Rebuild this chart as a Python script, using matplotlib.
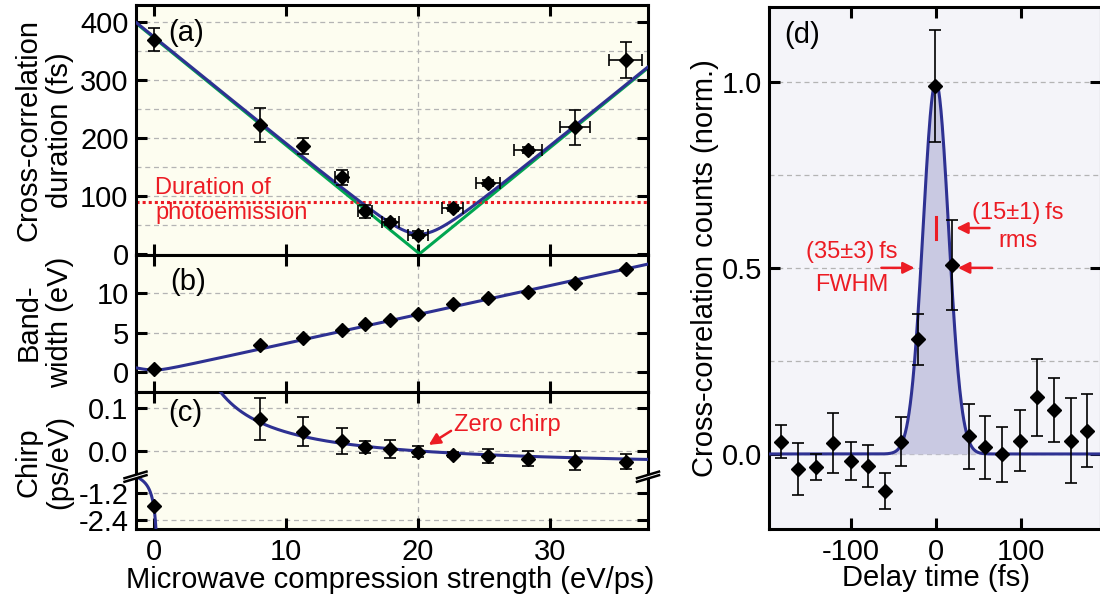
import numpy as np
import matplotlib.pyplot as plt
from matplotlib.lines import Line2D
from matplotlib.patches import Polygon

plt.rcParams['font.family'] = ['Liberation Sans', 'DejaVu Sans']
plt.rcParams['axes.unicode_minus'] = False

# ---- data ----
# panels (a)-(c): microwave compression strength (eV/ps)
strength = [0, 8.0, 11.3, 14.2, 16.0, 17.9, 20.0, 22.6, 25.3, 28.3, 31.9, 35.7]
strength_err = [0, 0, 0, 0.5, 0.52, 0.67, 0.74, 0.81, 0.93, 1.05, 1.14, 1.26]
duration = [369, 222, 186, 132, 73, 55, 33, 79, 122, 179, 218, 333]
duration_err = [20, 30, 14, 13, 11, 5, 6, 5, 5, 5, 30, 31]
bandwidth = [0.38, 3.46, 4.32, 5.3, 6.07, 6.58, 7.39, 8.67, 9.36, 10.09, 11.24, 13.08]
chirp = [-1.78, 0.074, 0.045, 0.023, 0.010, 0.004, -0.002, -0.009, -0.012, -0.018, -0.023, -0.025]
chirp_err = [0, 0.048, 0.034, 0.031, 0.014, 0.021, 0.013, 0.006, 0.017, 0.018, 0.022, 0.018]
photoemission_fs = 90

# fit parameters for the model curves
tau0, tau_min, s_zero = 372.0, 34.0, 20.1     # duration fit (fs, fs, eV/ps)
bw0, bw_slope = 0.3, 0.365                   # bandwidth fit
chirp_k, chirp_pole, chirp_zero = 0.82, 0.45, 20.0

# panel (d): delay scan
delay = [-182, -162, -141, -121, -100, -80, -60, -41, -21, -1,
         19, 39, 58, 78, 99, 119, 139, 159, 178]
counts = [0.033, -0.041, -0.034, 0.029, -0.019, -0.032, -0.099, 0.033, 0.308, 0.989,
          0.508, 0.047, 0.018, -0.001, 0.036, 0.152, 0.118, 0.036, 0.063]
counts_err = [0.045, 0.07, 0.035, 0.08, 0.05, 0.056, 0.049, 0.065, 0.068, 0.15,
              0.12, 0.087, 0.085, 0.073, 0.082, 0.104, 0.085, 0.115, 0.097]
gauss_amp, gauss_t0, gauss_sigma = 1.0, 0.0, 15.0

BLUE = '#2e3192'
GREEN = '#00a651'
RED = '#ec1c24'
CREAM = '#fdfdf0'
LAVENDER = '#f4f4f9'
FILL = '#c9c9e2'
GRID = '#b4b4b4'
FS = 21

W, H = 1100, 599
fig = plt.figure(figsize=(11, 5.99), dpi=100)

L, R = 135.5, 648


def rect(top, bot, left=L, right=R):
    return [left / W, 1 - bot / H, (right - left) / W, (bot - top) / H]


ax_a = fig.add_axes(rect(5.3, 255))
ax_b = fig.add_axes(rect(255, 391.5))
ax_c1 = fig.add_axes(rect(391.5, 476.7))
ax_c2 = fig.add_axes(rect(476.7, 528.5))
ax_d = fig.add_axes(rect(6.7, 528.7, 769, 1101))


def style(ax, bg):
    ax.set_facecolor(bg)
    for s in ax.spines.values():
        s.set_linewidth(2.2)
    ax.tick_params(direction='in', length=8, width=2.2, top=True, right=True,
                   labelsize=FS, color='k')
    ax.tick_params(axis='y', pad=5)
    ax.tick_params(axis='x', pad=7)


def hgrid(ax, vals):
    for v in vals:
        ax.axhline(v, color=GRID, lw=0.9, ls=(0, (4, 3)), zorder=0.5)


for ax in (ax_a, ax_b, ax_c1, ax_c2):
    style(ax, CREAM)
    ax.set_xlim(-1.4, 37.4)
    ax.set_xticks([0, 10, 20, 30])
    ax.axvline(20, color=GRID, lw=0.9, ls=(0, (4, 3)), zorder=0.5)
    if ax is not ax_c2:
        ax.tick_params(labelbottom=False)

ax_c1.spines['bottom'].set_visible(False)
ax_c1.tick_params(bottom=False)
ax_c2.spines['top'].set_visible(False)
ax_c2.tick_params(top=False)
ax_c2.set_xticklabels(['0', '10', '20', '30'])

ebar = dict(fmt='D', color='k', ms=7.2, ecolor='k', elinewidth=1.2,
            capsize=4, capthick=1.2, zorder=5)

# ---- (a) ----
xs = np.linspace(-1.4, 37.4, 600)
green = tau0 * np.abs(1 - xs / s_zero)
blue = np.sqrt(tau_min ** 2 + green ** 2)
ax_a.set_ylim(-2, 428)
ax_a.set_yticks([0, 100, 200, 300, 400])
hgrid(ax_a, [50, 100, 150, 200, 250, 300, 350, 400])
ax_a.plot(xs, green, color=GREEN, lw=2.2, zorder=2)
ax_a.plot(xs, blue, color=BLUE, lw=2.2, zorder=3)
ax_a.axhline(photoemission_fs, color=RED, lw=2.2, ls=(0, (1, 1)), zorder=2.5)
ax_a.errorbar(strength, duration, yerr=duration_err, xerr=strength_err, **ebar)
ax_a.text(1.1, 381, '(a)', fontsize=FS, ha='left', va='center')
ax_a.text(0.1, 92, 'Duration of\nphotoemission', fontsize=17, color=RED,
          ha='left', va='center', linespacing=1.2)

# ---- (b) ----
ax_b.set_ylim(-2.4, 14.8)
ax_b.set_yticks([0, 5, 10])
hgrid(ax_b, [0, 5, 10])
ax_b.plot(xs, np.sqrt(bw0 ** 2 + (bw_slope * xs) ** 2), color=BLUE, lw=2.2, zorder=3)
ax_b.plot(strength, bandwidth, 'D', color='k', ms=7.2, zorder=5)
ax_b.text(1.2, 11.4, '(b)', fontsize=FS, ha='left', va='center')

# ---- (c) broken axis ----
ax_c1.set_ylim(-0.0598, 0.138)
ax_c1.set_yticks([0.0, 0.1])
ax_c1.set_yticklabels(['0.0', '0.1'])
hgrid(ax_c1, [0.0, 0.1])
ax_c2.set_ylim(-2.76, -0.495)
ax_c2.set_yticks([-2.4, -1.2])
ax_c2.set_yticklabels(['-2.4', '-1.2'])
hgrid(ax_c2, [-2.4, -1.2])


def chirp_fit(x):
    return chirp_k / (x - chirp_pole) - chirp_k / (chirp_zero - chirp_pole)


x_hi = np.linspace(chirp_pole + 0.05, 37.4, 600)
x_lo = np.linspace(-1.4, chirp_pole - 0.005, 400)
for ax in (ax_c1, ax_c2):
    ax.plot(x_hi, chirp_fit(x_hi), color=BLUE, lw=2.2, zorder=3)
    ax.plot(x_lo, chirp_fit(x_lo), color=BLUE, lw=2.2, zorder=3)
    ax.errorbar(strength, chirp, yerr=chirp_err, **ebar)
ax_c1.text(1.1, 0.088, '(c)', fontsize=FS, ha='left', va='center')
ax_c1.annotate('Zero chirp', xy=(20.8, 0.014), xytext=(22.7, 0.061),
               fontsize=17, color=RED, ha='left', va='center',
               arrowprops=dict(arrowstyle='-|>', color=RED, lw=1.8,
                               mutation_scale=17, shrinkA=0, shrinkB=0,
                               relpos=(0, 0.3)))

# break marks on both spines
yb = 476.7
for xb in (L, R):
    pts = [(xb - 10, yb + 4.5), (xb + 10, yb - 1.5), (xb + 10, yb - 4.5), (xb - 10, yb + 1.5)]
    fig.add_artist(Polygon([(p[0] / W, 1 - p[1] / H) for p in pts], closed=True,
                           facecolor='white', edgecolor='none',
                           transform=fig.transFigure, zorder=10))
    for off in (-1.8, 1.8):
        fig.add_artist(Line2D([(xb - 11) / W, (xb + 11) / W],
                              [1 - (yb + off + 3.3) / H, 1 - (yb + off - 3.3) / H],
                              color='k', lw=1.8, transform=fig.transFigure, zorder=11))

# ---- (d) ----
style(ax_d, LAVENDER)
ax_d.set_xlim(-196, 194)
ax_d.set_ylim(-0.2008, 1.2016)
ax_d.set_xticks([-100, 0, 100])
ax_d.set_xticklabels(['-100', '0', '100'])
ax_d.set_yticks([0.0, 0.5, 1.0])
ax_d.set_yticklabels(['0.0', '0.5', '1.0'])
hgrid(ax_d, [0.0, 0.25, 0.5, 0.75, 1.0])
ts = np.linspace(-196, 194, 800)
gauss = gauss_amp * np.exp(-0.5 * ((ts - gauss_t0) / gauss_sigma) ** 2)
ax_d.fill_between(ts, 0, gauss, color=FILL, lw=0, zorder=1)
ax_d.plot(ts, gauss, color=BLUE, lw=2.2, zorder=3)
ax_d.errorbar(delay, counts, yerr=counts_err, **ebar)
ax_d.text(-178, 1.126, '(d)', fontsize=FS, ha='left', va='center')

arrow = dict(arrowstyle='-|>', color=RED, lw=1.8, mutation_scale=17, shrinkA=0, shrinkB=0)
ax_d.annotate('', xy=(-25, 0.5), xytext=(-64, 0.5), arrowprops=arrow)
ax_d.annotate('', xy=(26, 0.5), xytext=(66, 0.5), arrowprops=arrow)
ax_d.annotate('', xy=(24, 0.607), xytext=(63, 0.607), arrowprops=arrow)
ax_d.plot([0, 0], [0.578, 0.637], color=RED, lw=2.2, zorder=4)
ax_d.text(-99, 0.543, '(35\u00b13)\u2009fs', fontsize=17, color=RED, ha='center', va='center')
ax_d.text(-99, 0.454, 'FWHM', fontsize=17, color=RED, ha='center', va='center')
ax_d.text(96, 0.648, '(15\u00b11)\u2009fs', fontsize=17, color=RED, ha='center', va='center')
ax_d.text(96, 0.573, 'rms', fontsize=17, color=RED, ha='center', va='center')

# ---- axis labels ----
for label, yc in (('Cross-correlation\nduration (fs)', 130),
                  ('Band-\nwidth (eV)', 322),
                  ('Chirp\n(ps/eV)', 462)):
    fig.text(44 / W, 1 - yc / H, label, rotation=90, fontsize=FS, ha='center',
             va='center', multialignment='center', linespacing=1.15)
fig.text(390 / W, 1 - 580 / H, 'Microwave compression strength (eV/ps)',
         fontsize=FS, ha='center', va='center')
fig.text(705 / W, 1 - 268 / H, 'Cross-correlation counts (norm.)', rotation=90,
         fontsize=FS, ha='center', va='center')
fig.text(936 / W, 1 - 578 / H, 'Delay time (fs)', fontsize=FS, ha='center', va='center')

fig.savefig('out.png', dpi=100)
